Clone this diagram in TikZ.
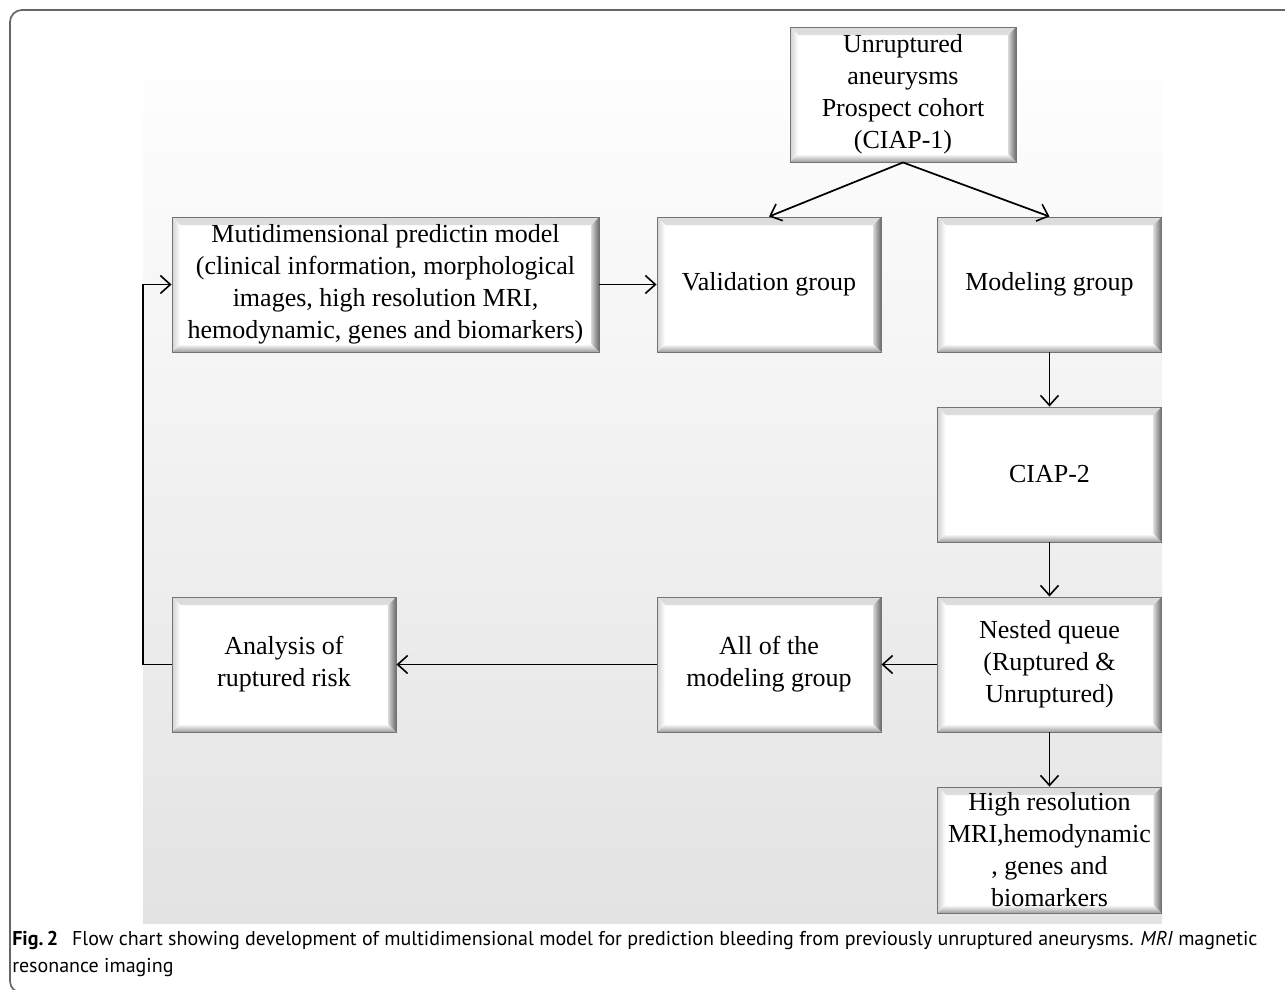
\documentclass[tikz,border=0pt]{standalone}
\usepackage{fontspec}
\usetikzlibrary{arrows.meta,calc}
\newfontfamily\boxserif{Liberation Serif}
\newfontfamily\capsans{PT Sans}
\tikzset{
  x=0.75pt, y=-0.75pt,
  bev/.style={draw=black!55, line width=0.7pt, fill=white, inner sep=0pt, align=center,
    font=\boxserif\fontsize{19.5}{24}\selectfont,
    minimum width=168pt, minimum height=101.25pt,
    path picture={
      \def\dd{6pt}
      \fill[top color=black!14, bottom color=white]
        (path picture bounding box.north west) -- (path picture bounding box.north east)
        -- ([xshift=-\dd,yshift=-\dd]path picture bounding box.north east)
        -- ([xshift=\dd,yshift=-\dd]path picture bounding box.north west) -- cycle;
      \fill[left color=black!18, right color=white]
        (path picture bounding box.north west) -- (path picture bounding box.south west)
        -- ([xshift=\dd,yshift=\dd]path picture bounding box.south west)
        -- ([xshift=\dd,yshift=-\dd]path picture bounding box.north west) -- cycle;
      \fill[top color=white, bottom color=black!38]
        (path picture bounding box.south west) -- (path picture bounding box.south east)
        -- ([xshift=-\dd,yshift=\dd]path picture bounding box.south east)
        -- ([xshift=\dd,yshift=\dd]path picture bounding box.south west) -- cycle;
      \fill[left color=black!15, right color=black!58]
        (path picture bounding box.north east) -- (path picture bounding box.south east)
        -- ([xshift=-\dd,yshift=\dd]path picture bounding box.south east)
        -- ([xshift=-\dd,yshift=-\dd]path picture bounding box.north east) -- cycle;
    }},
  arr/.style={line width=1.3pt, -{Straight Barb[length=7.5pt,width=13.5pt,line width=1.2pt]}},
  capstyle/.style={anchor=base west, inner sep=0pt, font=\capsans\fontsize{15}{18}\selectfont},
}
\begin{document}
\begin{tikzpicture}
\useasboundingbox (0,0) rectangle (1285,989);
% outer frame
\draw[black!60, line width=1.3pt, rounded corners=9] (1300,10) -- (10,10) -- (10,993) -- (1300,993);
% gradient background
\shade[top color=white, bottom color=black!11] (143,35) rectangle (1162,923);
% boxes
\node[bev, minimum width=169.5pt] (top) at (903,94.5) {\raisebox{-3pt}{\begin{tabular}{@{}c@{}}Unruptured\\aneurysms\\Prospect cohort\\(CIAP-1)\end{tabular}}};
\node[bev, minimum width=320.25pt] (multi) at (385.5,284.5) {\raisebox{-3pt}{\begin{tabular}{@{}c@{}}Mutidimensional predictin model\\(clinical information, morphological\\images, high resolution MRI,\\hemodynamic, genes and biomarkers)\end{tabular}}};
\node[bev] (valid) at (769,284.5) {Validation group};
\node[bev] (model) at (1049.5,284.5) {Modeling group};
\node[bev] (ciap) at (1049.5,474.5) {CIAP-2};
\node[bev] (nested) at (1049.5,664.5) {Nested queue\\(Ruptured \&\\Unruptured)};
\node[bev] (allmod) at (769,664.5) {All of the\\modeling group};
\node[bev] (analysis) at (284,664.5) {Analysis of\\ruptured risk};
\node[bev, minimum height=94.5pt] (high) at (1049.5,850) {High resolution\\MRI,hemodynamic\\, genes and\\biomarkers};
% connectors
\draw[arr] (top.south) -- (valid.north);
\draw[arr] (top.south) -- (model.north);
\draw[arr] (multi.east) -- (valid.west);
\draw[arr] (model.south) -- (ciap.north);
\draw[arr] (ciap.south) -- (nested.north);
\draw[arr] (nested.south) -- (high.north);
\draw[arr] (nested.west) -- (allmod.east);
\draw[arr] (allmod.west) -- (analysis.east);
\coordinate (fb) at (143,664.5);
\draw[arr] (analysis.west) -- (fb) |- (multi.west);
% caption
\node[capstyle] (cap1) at (12,945) {\textbf{Fig.\,2}\hspace{0.7em}Flow chart showing development of multidimensional model for prediction bleeding from previously unruptured aneurysms. \textit{MRI} magnetic};
\node[capstyle] (cap2) at (12,972) {resonance imaging};
\end{tikzpicture}
\end{document}
